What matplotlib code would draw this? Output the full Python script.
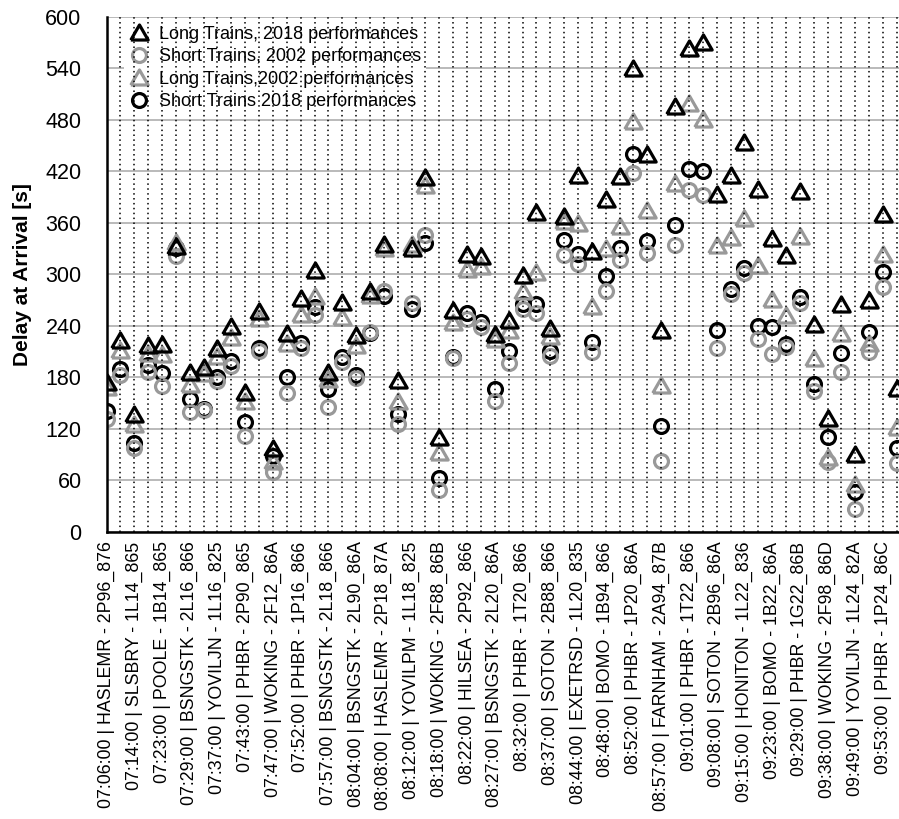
import matplotlib

matplotlib.use("Agg")
import matplotlib.pyplot as plt
import numpy as np

FONTNAME = "Liberation Sans"
plt.rcParams["font.family"] = FONTNAME

COLOR_BLACK = "#000000"
COLOR_GREY = "#999999"
COLOR_HGRID = "#b4b4b4"

# train services, one label for every other category
service_labels = [
    "07:06:00 | HASLEMR - 2P96_876",
    "07:14:00 | SLSBRY - 1L14_865",
    "07:23:00 | POOLE - 1B14_865",
    "07:29:00 | BSNGSTK - 2L16_866",
    "07:37:00 | YOVILJN - 1L16_825",
    "07:43:00 | PHBR - 2P90_865",
    "07:47:00 | WOKING - 2F12_86A",
    "07:52:00 | PHBR - 1P16_866",
    "07:57:00 | BSNGSTK - 2L18_866",
    "08:04:00 | BSNGSTK - 2L90_86A",
    "08:08:00 | HASLEMR - 2P18_87A",
    "08:12:00 | YOVILPM - 1L18_825",
    "08:18:00 | WOKING - 2F88_86B",
    "08:22:00 | HILSEA - 2P92_866",
    "08:27:00 | BSNGSTK - 2L20_86A",
    "08:32:00 | PHBR - 1T20_866",
    "08:37:00 | SOTON - 2B88_866",
    "08:44:00 | EXETRSD - 1L20_835",
    "08:48:00 | BOMO - 1B94_866",
    "08:52:00 | PHBR - 1P20_86A",
    "08:57:00 | FARNHAM - 2A94_87B",
    "09:01:00 | PHBR - 1T22_866",
    "09:08:00 | SOTON - 2B96_86A",
    "09:15:00 | HONITON - 1L22_836",
    "09:23:00 | BOMO - 1B22_86A",
    "09:29:00 | PHBR - 1G22_86B",
    "09:38:00 | WOKING - 2F98_86D",
    "09:49:00 | YOVILJN - 1L24_82A",
    "09:53:00 | PHBR - 1P24_86C",
]

# delay at arrival [s]
long_2018 = [174, 223, 137, 217, 219, 333, 186, 192, 214, 240,
             163, 257, 97, 231, 272, 305, 186, 268, 229, 281,
             335, 177, 330, 413, 110, 258, 324, 321, 230, 247,
             299, 373, 237, 368, 415, 327, 388, 414, 540, 440,
             235, 496, 564, 571, 393, 415, 454, 399, 342, 322,
             397, 242, 133, 265, 90, 270, 370, 167]
long_2002 = [168, 212, 125, 208, 207, 338, 172, 185, 205, 227,
             152, 249, 82, 220, 254, 275, 178, 250, 217, 276,
             330, 152, 335, 404, 93, 244, 306, 310, 225, 235,
             280, 303, 228, 362, 360, 263, 330, 356, 478, 375,
             171, 406, 500, 481, 334, 343, 365, 311, 271, 252,
             344, 202, 87, 232, 56, 220, 323, 122]
short_2018 = [141, 190, 103, 194, 185, 330, 155, 143, 180, 199,
              128, 214, 88, 180, 220, 262, 166, 203, 182, 231,
              275, 137, 260, 336, 62, 204, 255, 244, 166, 210,
              265, 265, 211, 340, 323, 221, 298, 331, 440, 339,
              123, 357, 422, 420, 235, 283, 307, 240, 239, 219,
              274, 172, 110, 208, 46, 233, 302, 97]
short_2002 = [131, 182, 98, 186, 170, 321, 139, 142, 176, 193,
              112, 211, 69, 162, 214, 253, 145, 198, 179, 233,
              281, 126, 267, 346, 48, 202, 248, 238, 152, 197,
              259, 255, 205, 322, 312, 209, 281, 317, 418, 325,
              82, 334, 398, 392, 214, 277, 301, 224, 207, 215,
              267, 164, 81, 186, 26, 209, 285, 80]

yticks = np.arange(0, 601, 60)

# equilateral triangle, centred on its bounding box
TRIANGLE = [(-1.0, -0.866), (1.0, -0.866), (0.0, 0.866), (-1.0, -0.866)]

fig = plt.figure(figsize=(8.99, 8.19), dpi=100)
ax = fig.add_axes([0.1185, 0.3508, 0.8815, 0.6288])

n_cats = len(long_2018)
xs = np.arange(n_cats)

marker_common = {"linestyle": "none", "markerfacecolor": "none", "clip_on": True}
circ = {"marker": "o", "markersize": 10.0, "markeredgewidth": 2.3}
tri = {"marker": TRIANGLE, "markersize": 12.5, "markeredgewidth": 2.3}

(h_s18,) = ax.plot(xs, short_2018, markeredgecolor=COLOR_BLACK, zorder=3,
                   label="Short Trains 2018 performances", **circ, **marker_common)
(h_s02,) = ax.plot(xs, short_2002, markeredgecolor=COLOR_GREY, zorder=3.1,
                   label="Short Trains, 2002 performances", **circ, **marker_common)
(h_l02,) = ax.plot(xs, long_2002, markeredgecolor=COLOR_GREY, zorder=3.2,
                   label="Long Trains,2002 performances", **tri, **marker_common)
(h_l18,) = ax.plot(xs, long_2018, markeredgecolor=COLOR_BLACK, zorder=3.3,
                   label="Long Trains, 2018 performances", **tri, **marker_common)

ax.set_xlim(0, 57.15)
ax.set_ylim(0, 600)

# horizontal grid below, dotted verticals on every category
ax.set_yticks(yticks)
ax.yaxis.grid(True, color=COLOR_HGRID, linewidth=1.3)
ax.set_axisbelow(True)
ax.vlines(xs[1:], 0, 600, colors=COLOR_BLACK, linestyles=(0, (1, 2.2)),
          linewidth=1.1, zorder=6)

ax.set_xticks(xs[::2])
ax.set_xticklabels(service_labels, rotation=90, fontsize=12.8)
ax.tick_params(axis="x", length=0, pad=7)
ax.tick_params(axis="y", length=0, pad=18, labelsize=15.5)

for side in ["top", "right"]:
    ax.spines[side].set_visible(False)
for side in ["left", "bottom"]:
    ax.spines[side].set_linewidth(1.8)
    ax.spines[side].set_zorder(7)

ax.set_ylabel("Delay at Arrival [s]", fontsize=15, fontweight="bold")
ax.yaxis.set_label_coords(-0.094, 0.5)

leg = ax.legend(
    handles=[h_l18, h_s02, h_l02, h_s18],
    loc="upper left",
    bbox_to_anchor=(0.018, 1.0),
    fontsize=13,
    numpoints=1,
    handlelength=1.0,
    handletextpad=0.6,
    labelspacing=0.3,
    borderpad=0.3,
    borderaxespad=0.2,
    frameon=True,
    fancybox=False,
    framealpha=1.0,
    edgecolor="none",
    facecolor="white",
)
leg.set_zorder(5)

fig.savefig("out.png", dpi=100)
